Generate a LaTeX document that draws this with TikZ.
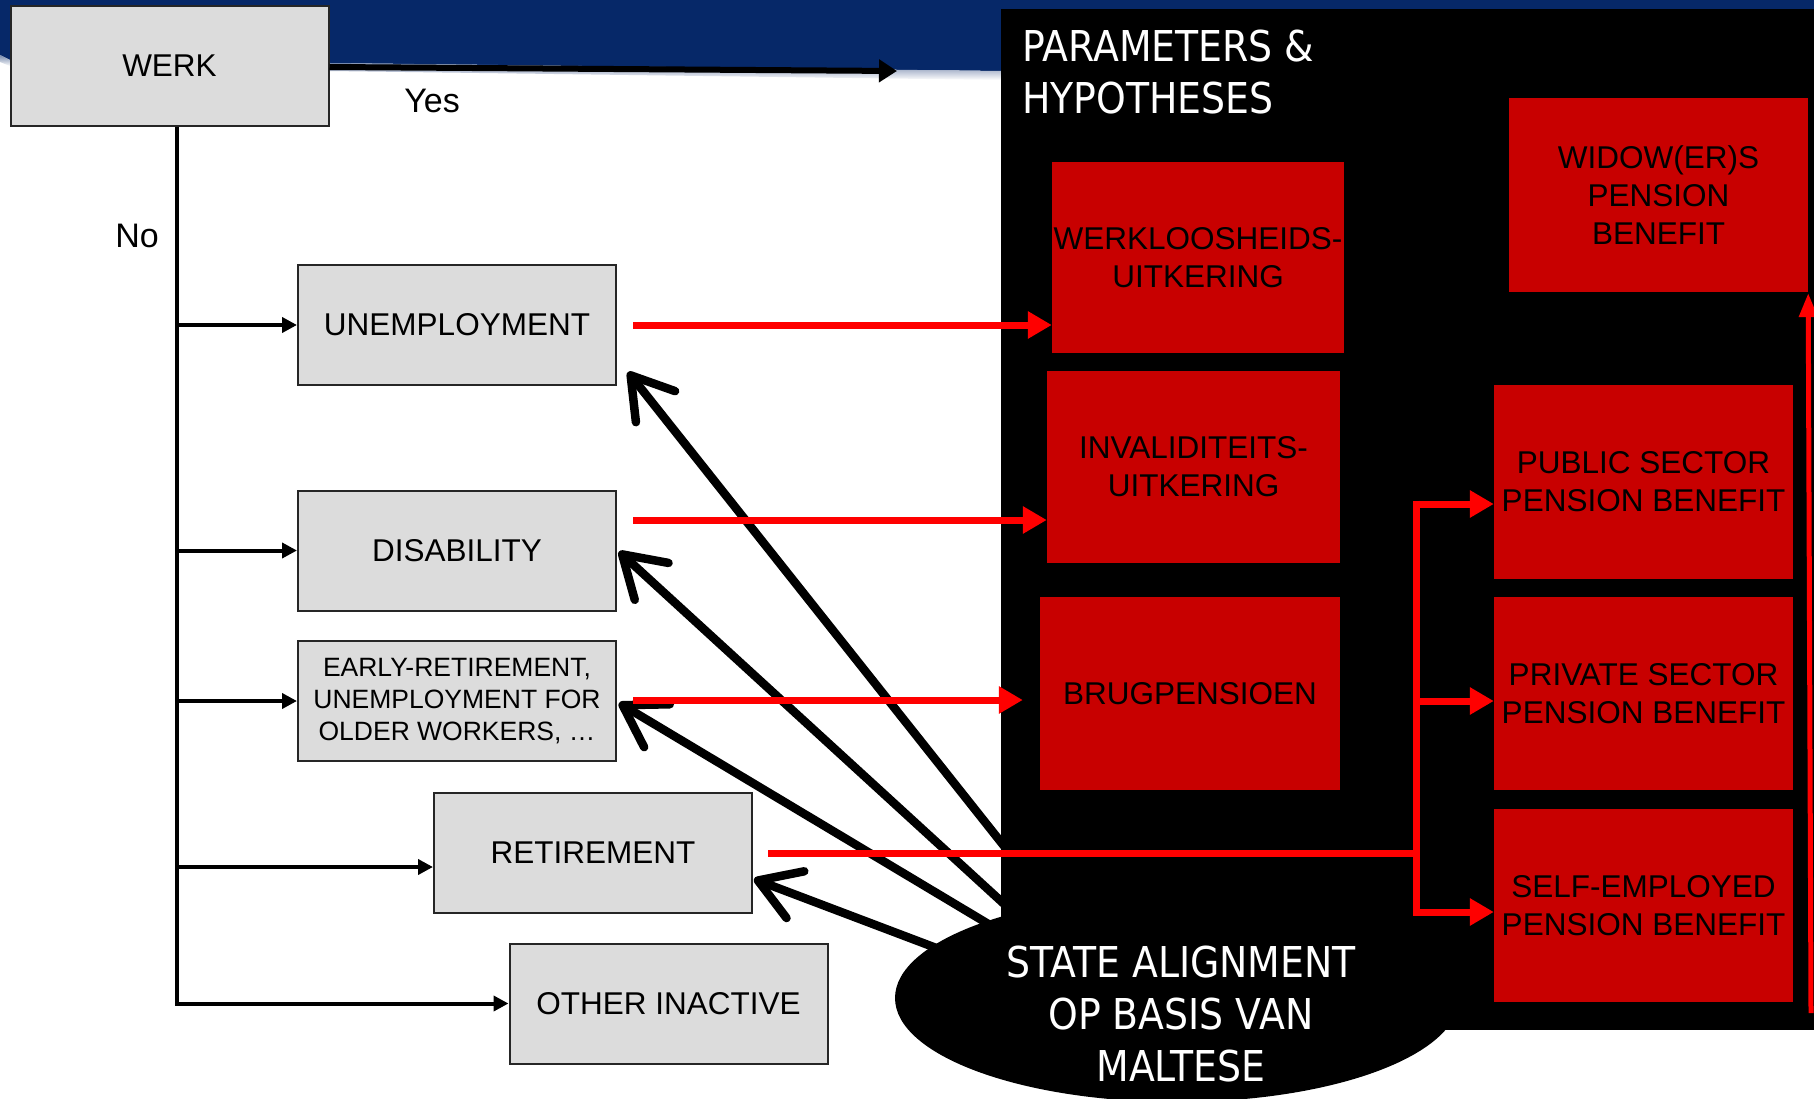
\documentclass[tikz,border=0pt]{standalone}
\usepackage{fontspec}
\setmainfont{Liberation Sans}
\newfontfamily\condfont[FakeStretch=0.89]{DejaVu Sans}
\usetikzlibrary{arrows.meta,shapes.geometric,calc}
\definecolor{navy}{HTML}{062868}
\definecolor{boxgray}{HTML}{DCDCDC}
\definecolor{boxred}{HTML}{C80000}
\definecolor{linered}{HTML}{FF0000}
\tikzset{
 graybox/.style={draw=black!85, line width=2pt, fill=boxgray, minimum width=318pt, minimum height=120pt, inner sep=0pt, align=center, font=\fontsize{31.5}{38}\selectfont},
 redbox/.style={fill=boxred, inner sep=0pt, align=center, text=black, font=\fontsize{31.5}{38}\selectfont},
 branch/.style={line width=4pt, -{Triangle[length=15pt,width=15pt]}},
 redarrow/.style={draw=linered, line width=7pt, -{Triangle[length=24pt,width=26pt]}},
 redline/.style={draw=linered, line width=7pt},
 blkarrow/.style={line width=8.5pt, line cap=round, -{Straight Barb[length=40pt,width=50pt,round]}},
 whitetext/.style={text=white, font=\condfont\fontsize{42.5}{52}\selectfont, inner sep=0pt},
 plaintext/.style={inner sep=0pt, font=\fontsize{34}{40}\selectfont},
}
\begin{document}
\begin{tikzpicture}[x=1pt,y=-1pt]
\useasboundingbox (0,0) rectangle (1814,1099);
\fill[white] (0,0) rectangle (1814,1099);
% top band
\fill[navy] (0,0) -- (1814,0) -- (1814,16) -- (1001,16) -- (1001,71) -- (330,63) -- (10,60) -- (0,55) -- cycle;
\shade[top color=navy!55, bottom color=white] (330,63) -- (1001,71) -- (1001,80) -- (330,71) -- cycle;
\shade[top color=navy!55, bottom color=white] (0,55) -- (10,60) -- (10,66) -- (0,62) -- cycle;
% black panel
\fill[black] (1001,9) rectangle (1814,1030);
\node[whitetext, anchor=west, align=left] (param) at (1022,72) {PARAMETERS \&\\HYPOTHESES};

% grey boxes
\node[graybox] (werk) at (169.5,66) {WERK};
\node[graybox] (unemp) at (457,325) {UNEMPLOYMENT};
\node[graybox] (dis) at (457,550.5) {DISABILITY};
\node[graybox, font=\fontsize{26.5}{32.4}\selectfont] (early) at (457,701) {EARLY-RETIREMENT,\\UNEMPLOYMENT FOR\\OLDER WORKERS, \dots};
\node[graybox] (ret) at (593,853) {RETIREMENT};
\node[graybox] (oth) at (668.5,1003.5) {OTHER INACTIVE};

\node[plaintext] (yes) at (432,101) {Yes};
\node[plaintext] (no) at (137,236) {No};

% Yes arrow
\coordinate (yesend) at (897,71);
\draw[line width=6pt, -{Triangle[length=18pt,width=22pt]}] ($(werk.east)+(0,1)$) -- (yesend);

% trunk and branches
\coordinate (tx) at (177,0);
\coordinate (retin) at ($(ret.west)+(0,14)$);
\draw[branch] (werk.south -| tx) |- (oth.west);
\draw[branch] (unemp.west -| tx) -- (unemp.west);
\draw[branch] (dis.west -| tx) -- (dis.west);
\draw[branch] (early.west -| tx) -- (early.west);
\draw[branch] (retin -| tx) -- (retin);

% state alignment ellipse and black arrows
\node[ellipse, fill=black, minimum width=564pt, minimum height=208pt, inner sep=0pt] (ell) at (1177,998) {};
\coordinate (s1) at (1050,904);
\coordinate (s2) at (1050,946);
\coordinate (s3) at (1000,931);
\coordinate (s4) at (960,957);
\coordinate (t1) at ($(unemp.south east)+(11,-14)$);
\coordinate (t2) at ($(dis.east)+(2,1)$);
\coordinate (t3) at ($(early.east)+(2,2)$);
\coordinate (t4) at ($(ret.east)+(1,26)$);
\draw[blkarrow] (s1) -- (t1);
\draw[blkarrow] (s2) -- (t2);
\draw[blkarrow] (s3) -- (t3);
\draw[blkarrow] (s4) -- (t4);
\node[whitetext, align=center] (elltext) at (1181,1014) {STATE ALIGNMENT\\OP BASIS VAN\\MALTESE};

% red boxes
\node[redbox, minimum width=292pt, minimum height=191pt] (wk) at (1198,257.5) {WERKLOOSHEIDS-\\UITKERING};
\node[redbox, minimum width=293pt, minimum height=192pt] (inv) at (1193.5,467) {INVALIDITEITS-\\UITKERING};
\node[redbox, minimum width=300pt, minimum height=193pt] (brug) at (1190,693.5) {BRUGPENSIOEN};
\node[redbox, minimum width=299pt, minimum height=194pt] (wid) at (1658.5,195) {WIDOW(ER)S\\PENSION\\BENEFIT};
\node[redbox, minimum width=299pt, minimum height=194pt] (pub) at (1643.5,482) {PUBLIC SECTOR\\PENSION BENEFIT};
\node[redbox, minimum width=299pt, minimum height=193pt] (priv) at (1643.5,693.5) {PRIVATE SECTOR\\PENSION BENEFIT};
\node[redbox, minimum width=299pt, minimum height=193pt] (self) at (1643.5,905.5) {SELF-EMPLOYED\\PENSION BENEFIT};

% red arrows
\coordinate (unr) at ($(unemp.east)+(16,0)$);
\coordinate (disr) at ($(dis.east)+(16,-30.5)$);
\coordinate (earr) at ($(early.east)+(16,-1)$);
\coordinate (retr) at ($(ret.east)+(15,0)$);
\draw[redarrow] (unr) -- (unr -| wk.west);
\draw[redarrow] (disr) -- (disr -| inv.west);
\draw[redarrow, shorten >=17pt] (earr) -- (earr -| brug.west);
\coordinate (jx) at (1416,0);
\coordinate (jtop) at (1416,504);
\coordinate (jmid) at (1416,701);
\coordinate (jbot) at (1416,912);
\draw[redline] (retr) -- (retr -| jx);
\draw[redline] ($(jtop)+(0,-3.5)$) -- ($(jbot)+(0,3.5)$);
\draw[redarrow] (jtop) -- (jtop -| pub.west);
\draw[redarrow] (jmid) -- (jmid -| priv.west);
\draw[redarrow] (jbot) -- (jbot -| self.west);
\coordinate (redge) at (1811,1013);
\draw[draw=linered, line width=5pt, -{Triangle[length=24pt,width=18pt]}] (redge) -- ($(wid.south east)+(0,1)$);
\end{tikzpicture}
\end{document}
